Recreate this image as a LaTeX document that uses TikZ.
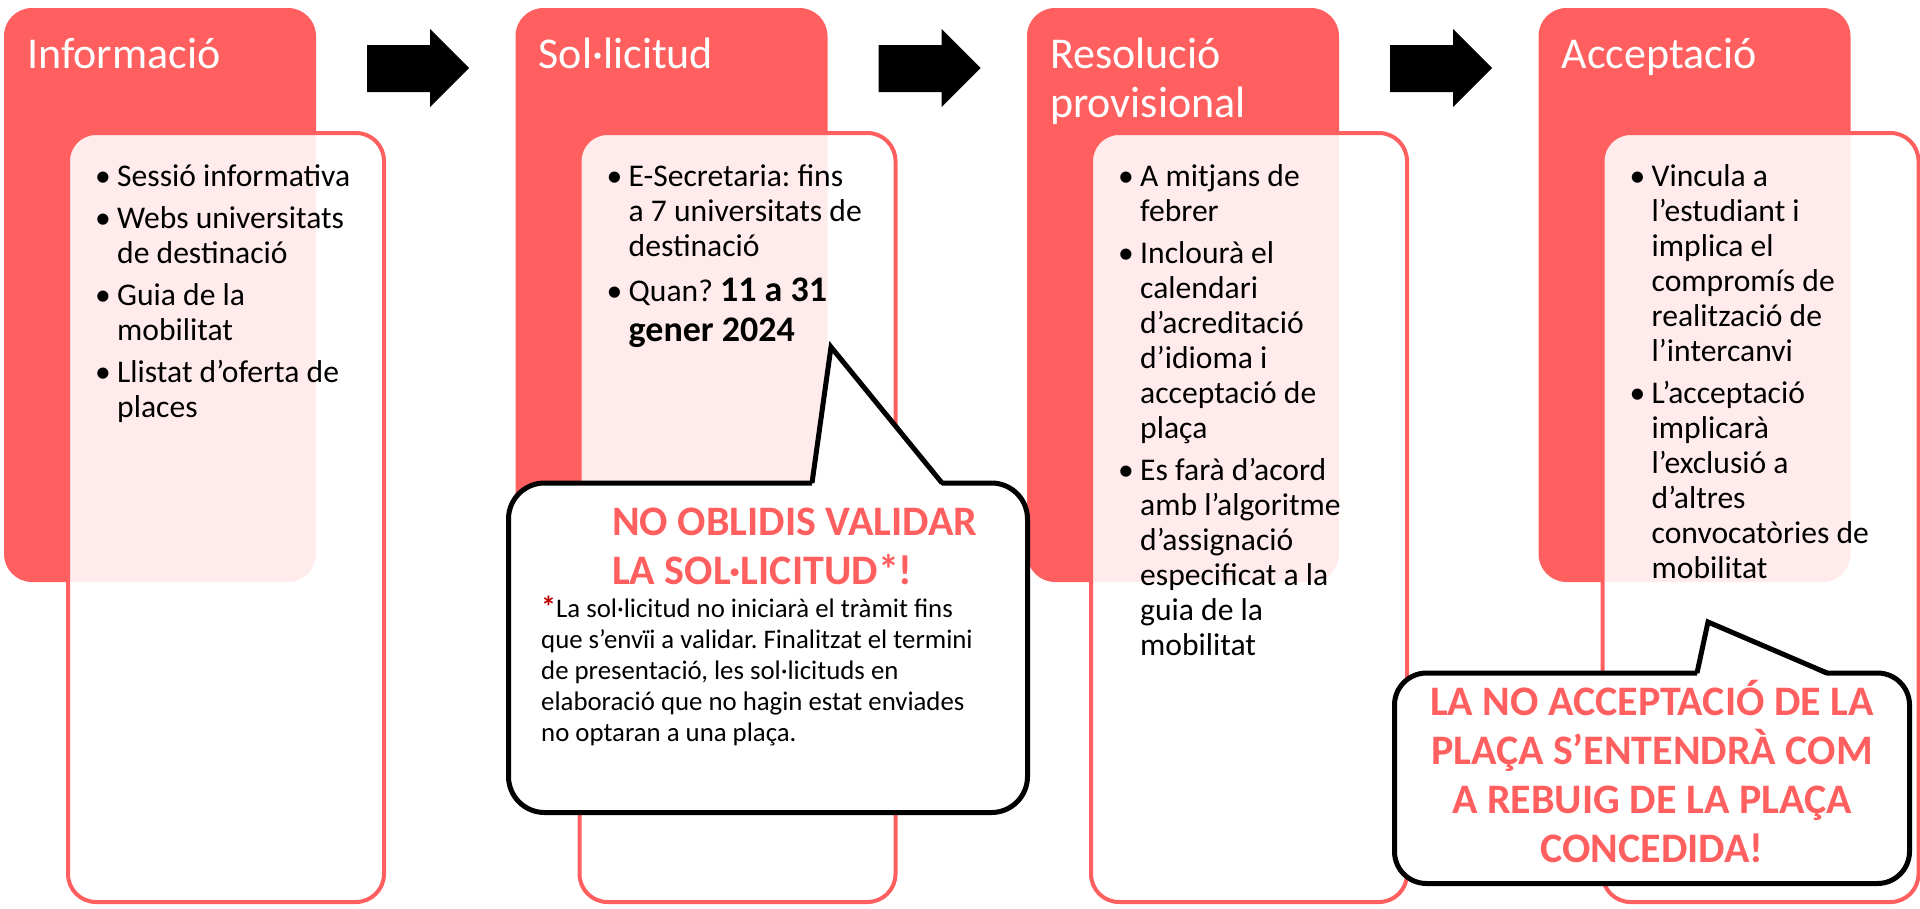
\documentclass[tikz,border=0pt]{standalone}
\usepackage{fontspec}
\setmainfont{Carlito}
\usepackage{tikz}
\definecolor{stagered}{HTML}{FF5F5F}
\definecolor{notered}{HTML}{C00000}
\tikzset{
  stagebox/.style={fill=stagered, rounded corners=28pt, minimum width=312pt, minimum height=574pt, anchor=north west, inner sep=0pt, outer sep=0pt},
  detailbox/.style={fill=white, fill opacity=0.88, draw=stagered, line width=4pt, rounded corners=28pt, minimum width=316pt, minimum height=769pt, anchor=north west, inner sep=0pt, outer sep=0pt},
  callout/.style={fill=white, draw=black, line width=5pt, anchor=north west, inner sep=0pt, outer sep=0pt},
  calloutline/.style={draw=black, line width=5pt},
  titletext/.style={text=white, font=\fontsize{44}{49}\selectfont, anchor=base west, inner sep=0pt},
  bodytext/.style={font=\frenchspacing\fontsize{31.6}{35}\selectfont, anchor=base west, inner sep=0pt},
  warntext/.style={text=stagered, font=\bfseries\fontsize{42}{49}\selectfont, inner sep=0pt},
  notetext/.style={font=\frenchspacing\fontsize{26.8}{31}\selectfont, anchor=base west, inner sep=0pt}
}
\newcommand{\bul}[1]{\hangindent=17pt\hangafter=1\noindent\makebox[17pt][l]{\hspace*{-5pt}\textbullet}#1\par}

\begin{document}
\begin{tikzpicture}[x=1pt, y=-1pt]
\useasboundingbox (0,0) rectangle (1920,908);
\foreach \i in {0,1,2,3} {
  \node[stagebox] (stage\i) at (4+511.5*\i, 8) {};
  \node[detailbox] (detail\i) at (68+511.5*\i, 133) {};
}
\foreach \x in {0,511.5,1023}
  \fill (367+\x,45) -- (430+\x,45) -- (430+\x,29) -- (469+\x,68) -- (430+\x,107) -- (430+\x,92) -- (367+\x,92) -- cycle;

\node[titletext] (title0) at (27,68) {Informació};
\node[titletext] (title1) at (538.5,68) {Sol·licitud};
\node[titletext] (title2) at (1050,68) {\parbox[t]{300pt}{Resolució\\provisional}};
\node[titletext] (title3) at (1561.5,68) {Acceptació};

\node[bodytext] (list0) at (100,186) {\parbox[t]{400pt}{%
  \bul{Sessió informativa}\vspace{7pt}
  \bul{Webs universitats\\de destinació}\vspace{7pt}
  \bul{Guia de la\\mobilitat}\vspace{7pt}
  \bul{Llistat d’oferta de\\places}}};
\node[bodytext] (list1) at (611.5,186) {\parbox[t]{400pt}{%
  \bul{E-Secretaria: fins\\a 7 universitats de\\destinació}\vspace{10pt}
  \bul{Quan? {\bfseries\fontsize{36}{40}\selectfont 11 a 31\\[5pt]gener 2024}}}};
\node[bodytext] (list2) at (1123,186) {\parbox[t]{400pt}{%
  \bul{A mitjans de\\febrer}\vspace{7pt}
  \bul{Inclourà el\\calendari\\d’acreditació\\d’idioma i\\acceptació de\\plaça}\vspace{7pt}
  \bul{Es farà d’acord\\amb l’algoritme\\d’assignació\\especificat a la\\guia de la\\mobilitat}}};
\node[bodytext] (list3) at (1634.5,186) {\parbox[t]{400pt}{%
  \bul{Vincula a\\l’estudiant i\\implica el\\compromís de\\realització de\\l’intercanvi}\vspace{7pt}
  \bul{L’acceptació\\implicarà\\l’exclusió a\\d’altres\\convocatòries de\\mobilitat}}};

\node[callout, minimum width=519pt, minimum height=329.5pt, rounded corners=36pt] (warn1) at (508.5,483) {};
\fill[white] (812,486) -- (831,347) -- (942,486) -- cycle;
\draw[calloutline] (812,483) -- (831,347) -- (942,483);
\node[warntext, anchor=base west] (warnhead) at (612,535) {\parbox[t]{420pt}{NO OBLIDIS VALIDAR\\LA SOL·LICITUD*!}};
\node[notetext] (warnnote) at (541,617) {\parbox[t]{480pt}{\noindent{\color{notered}\bfseries\fontsize{30}{31}\selectfont*}La sol·licitud no iniciarà el tràmit fins\\que s’envïi a validar. Finalitzat el termini\\de presentació, les sol·licituds en\\elaboració que no hagin estat enviades\\no optaran a una plaça.}};

\node[callout, minimum width=515pt, minimum height=210.5pt, rounded corners=32pt] (warn2) at (1394.5,673) {};
\fill[white] (1697,676) -- (1708,622) -- (1827,676) -- cycle;
\draw[calloutline] (1697,673) -- (1708,622) -- (1827,673);
\node[warntext, anchor=base] (rejectnote) at (1652,715) {\parbox[t]{510pt}{\centering LA NO ACCEPTACIÓ DE LA\\PLAÇA S’ENTENDRÀ COM\\A REBUIG DE LA PLAÇA\\CONCEDIDA!}};
\end{tikzpicture}
\end{document}
